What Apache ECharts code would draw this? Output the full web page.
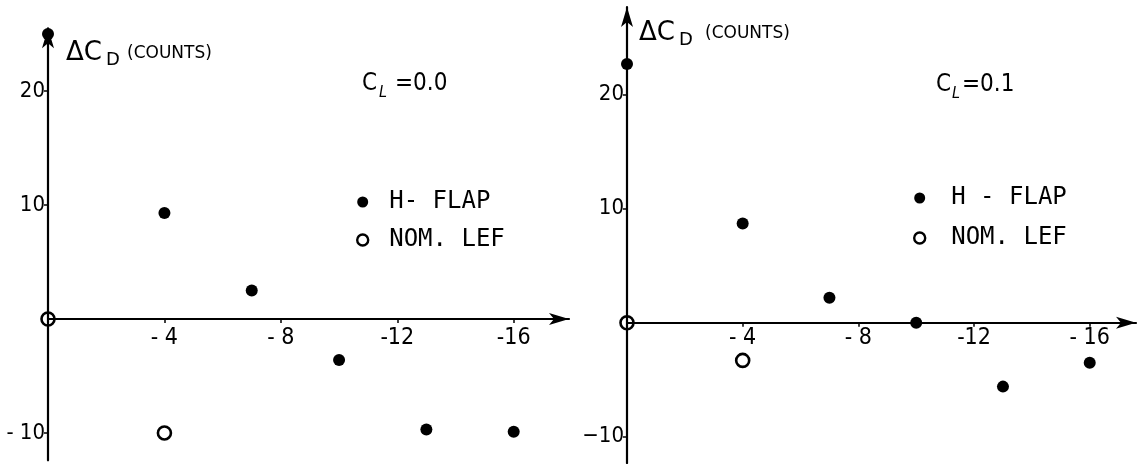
<!DOCTYPE html>
<html>
<head>
<meta charset="utf-8">
<script src="https://cdn.jsdelivr.net/npm/echarts@6/dist/echarts.min.js"></script>
<style>
  html, body { margin: 0; padding: 0; background: #fff; }
  #chart { width: 1139px; height: 464px; }
</style>
</head>
<body>
<div id="chart"></div>
<script>
// Tick values and their printed labels
const xTicks = [-4, -8, -12, -16];
const leftXLabels = ['- 4', '- 8', '-12', '-16'];
const rightXLabels = ['- 4', '- 8', '-12', '- 16'];
const yTicks = [20, 10, -10];
const leftYLabels = ['20', '10', '- 10'];
const rightYLabels = ['20', '10', '\u221210'];

// C_L = 0.0 panel
const leftFlapX = [0, -4, -7, -10, -13, -16];
const leftFlapY = [25, 9.3, 2.5, -3.6, -9.7, -9.9];
const leftLefX = [0, -4];
const leftLefY = [0, -10];

// C_L = 0.1 panel
const rightFlapX = [0, -4, -7, -10, -13, -16];
const rightFlapY = [22.7, 8.7, 2.2, 0, -5.6, -3.5];
const rightLefX = [0, -4];
const rightLefY = [0, -3.3];

const NARROW = "'Liberation Sans Narrow', 'DejaVu Sans Condensed', 'DejaVu Sans', sans-serif";
const SANS = "'DejaVu Sans', 'Liberation Sans', sans-serif";
const MONO = "'DejaVu Sans Mono', 'Liberation Mono', monospace";
const INK = '#000';

// panel geometry
const panels = [
  { left: 48, top: 28.3, width: 521, height: 432, xMin: -17.9, yMin: -12.4, yMax: 25.5 },
  { left: 627, top: 7, width: 509, height: 456, xMin: -17.6, yMin: -12.3, yMax: 27.7 }
];

function pairs(xs, ys) { return xs.map((x, i) => [x, ys[i]]); }

function xAxisCfg(gi, labels, margin) {
  const p = panels[gi];
  // lift the axis from the grid bottom to the y = 0 line
  const lift = p.height * (0 - p.yMin) / (p.yMax - p.yMin);
  return {
    type: 'value', gridIndex: gi, min: p.xMin, max: 0, inverse: true,
    position: 'bottom', offset: -lift,
    splitLine: { show: false },
    axisLine: { show: true, onZero: false, symbol: ['none', 'arrow'], symbolSize: [9, 20],
      lineStyle: { color: INK, width: 2.2 } },
    axisTick: { show: true, customValues: xTicks, length: 4, lineStyle: { color: INK, width: 1.5 } },
    axisLabel: { show: true, customValues: xTicks, margin: margin, color: INK,
      fontFamily: NARROW, fontSize: 23,
      formatter: v => labels[xTicks.indexOf(v)] }
  };
}

function yAxisCfg(gi, labels) {
  const p = panels[gi];
  return {
    type: 'value', gridIndex: gi, min: p.yMin, max: p.yMax, position: 'left',
    splitLine: { show: false },
    axisLine: { show: true, onZero: false, symbol: ['none', 'arrow'], symbolSize: [9, 20],
      lineStyle: { color: INK, width: 2.2 } },
    axisTick: { show: true, customValues: yTicks, length: 4, lineStyle: { color: INK, width: 1.5 } },
    axisLabel: { show: true, customValues: yTicks, margin: 3, color: INK,
      fontFamily: NARROW, fontSize: 22,
      formatter: v => labels[yTicks.indexOf(v)] }
  };
}

function flapSeries(name, gi, xs, ys) {
  return { type: 'scatter', name: name, xAxisIndex: gi, yAxisIndex: gi,
    data: pairs(xs, ys), symbol: 'circle', symbolSize: 12,
    itemStyle: { color: INK, opacity: 1 }, z: 5 };
}
function lefSeries(name, gi, xs, ys) {
  return { type: 'scatter', name: name, xAxisIndex: gi, yAxisIndex: gi,
    data: pairs(xs, ys), symbol: 'circle', symbolSize: 13,
    itemStyle: { color: 'rgba(255,255,255,0)', borderColor: INK, borderWidth: 2.6, opacity: 1 }, z: 5 };
}

function legendCfg(names, left, top, gap, pad) {
  return {
    data: [
      { name: names[0], itemStyle: { color: INK, opacity: 1 } },
      { name: names[1], itemStyle: { color: 'rgba(255,255,255,0)', borderColor: INK, borderWidth: 2.4, opacity: 1 } }
    ],
    orient: 'vertical', left: left, top: top,
    itemWidth: 11, itemHeight: 11, itemGap: gap, selectedMode: false,
    textStyle: { fontFamily: MONO, fontSize: 24, color: INK, padding: [0, 0, 0, pad] }
  };
}

function txt(x, y, text, font) {
  return { type: 'text', x: x, y: y,
    style: { text: text, fill: INK, font: font, textVerticalAlign: 'middle' } };
}

const chart = echarts.init(document.getElementById('chart'), null, { renderer: 'canvas' });
chart.setOption({
  backgroundColor: '#fff',
  animation: false,
  grid: panels.map(p => ({ left: p.left, top: p.top, width: p.width, height: p.height,
    outerBoundsMode: 'none', containLabel: false })),
  xAxis: [ xAxisCfg(0, leftXLabels, 8), xAxisCfg(1, rightXLabels, 4) ],
  yAxis: [ yAxisCfg(0, leftYLabels), yAxisCfg(1, rightYLabels) ],
  legend: [
    legendCfg(['H- FLAP', 'NOM. LEF'], 351, 185, 14, 16),
    legendCfg(['H - FLAP', 'NOM. LEF'], 908, 181, 16, 21)
  ],
  graphic: [
    txt(66, 53, '\u0394C', '26px ' + SANS),
    txt(106, 60, 'D', '18px ' + SANS),
    txt(127, 54, '(COUNTS)', '17px ' + SANS),
    txt(639, 33, '\u0394C', '26px ' + SANS),
    txt(679, 40, 'D', '18px ' + SANS),
    txt(705, 34, '(COUNTS)', '17px ' + SANS),
    txt(362, 84, 'C', '24px ' + NARROW),
    txt(379, 93, 'L', 'italic 16px ' + NARROW),
    txt(395, 84, '=0.0', '24px ' + NARROW),
    txt(936, 85, 'C', '24px ' + NARROW),
    txt(952, 94, 'L', 'italic 16px ' + NARROW),
    txt(962, 85, '=0.1', '24px ' + NARROW)
  ],
  series: [
    flapSeries('H- FLAP', 0, leftFlapX, leftFlapY),
    lefSeries('NOM. LEF', 0, leftLefX, leftLefY),
    flapSeries('H - FLAP', 1, rightFlapX, rightFlapY),
    lefSeries('NOM. LEF', 1, rightLefX, rightLefY)
  ]
});
</script>
</body>
</html>
